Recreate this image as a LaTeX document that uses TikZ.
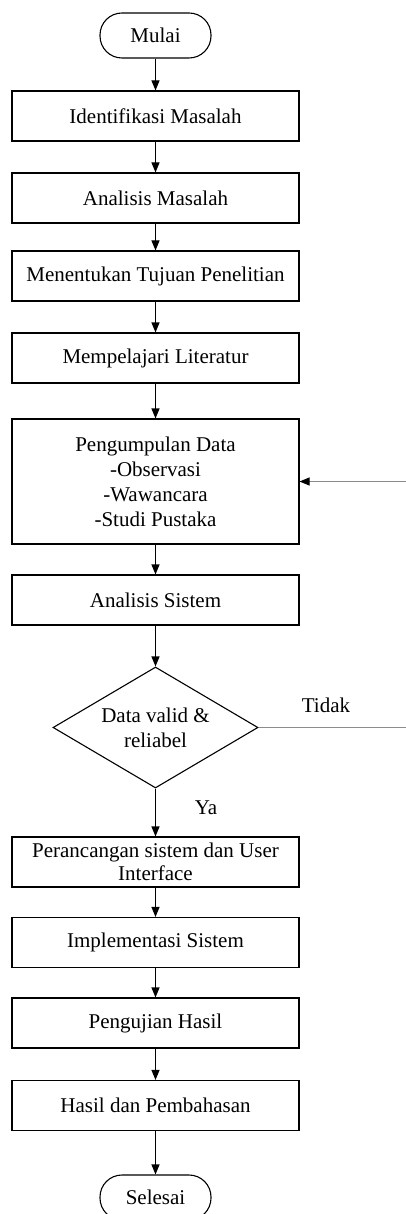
\documentclass[tikz,border=0pt]{standalone}
\usepackage{fontspec}
\setmainfont{Liberation Serif}
\usetikzlibrary{shapes.geometric,arrows.meta}
\tikzset{
  base/.style={draw=black, line width=1.1pt, font=\fontsize{21}{25}\selectfont, align=center, inner sep=0pt},
  procbox/.style={base, rectangle, minimum width=287pt, minimum height=50pt},
  term/.style={base, rectangle, rounded corners=22pt, minimum width=111pt, minimum height=45pt},
  decision/.style={base, diamond, aspect=1.69, minimum width=205pt, minimum height=121pt},
  flow/.style={line width=1.1pt, -{Triangle[length=10pt,width=8pt]}},
  grayline/.style={draw=black!45, line width=1.1pt},
  lbl/.style={font=\fontsize{21}{25}\selectfont, inner sep=0pt}
}
\begin{document}
\begin{tikzpicture}[x=1pt,y=-1pt]
\useasboundingbox (0,0) rectangle (406,1214);
\node[term] (mulai) at (155.5,35.5) {Mulai};
\node[procbox] (ident) at (155.5,116) {Identifikasi Masalah};
\node[procbox] (anm) at (155.5,198) {Analisis Masalah};
\node[procbox] (tuj) at (155.5,276) {Menentukan Tujuan Penelitian};
\node[procbox] (lit) at (155.5,358) {Mempelajari Literatur};
\node[procbox, minimum height=125pt] (data) at (155.5,481.5) {Pengumpulan Data\\-Observasi\\-Wawancara\\-Studi Pustaka};
\node[procbox] (ans) at (155.5,600) {Analisis Sistem};
\node[decision] (dec) at (155.5,727.5) {Data valid \&\\reliabel};
\node[procbox] (rancang) at (155.5,862) {Perancangan sistem dan User\\[-2pt]Interface};
\node[procbox] (impl) at (155.5,942.5) {Implementasi Sistem};
\node[procbox] (uji) at (155.5,1023) {Pengujian Hasil};
\node[procbox] (hasil) at (155.5,1105.5) {Hasil dan Pembahasan};
\node[term] (selesai) at (155.5,1197.5) {Selesai};

\coordinate (rin) at (406,481.5);
\coordinate (rout) at (406,727.5);

\draw[flow] (mulai) -- (ident);
\draw[flow] (ident) -- (anm);
\draw[flow] (anm) -- (tuj);
\draw[flow] (tuj) -- (lit);
\draw[flow] (lit) -- (data);
\draw[flow] (data) -- (ans);
\draw[flow] (ans) -- (dec);
\draw[flow] (dec) -- (rancang);
\draw[flow] (rancang) -- (impl);
\draw[flow] (impl) -- (uji);
\draw[flow] (uji) -- (hasil);
\draw[flow] (hasil) -- (selesai);

\draw[grayline] (dec.east) -- (rout);
\draw[grayline, -{Triangle[length=10pt,width=8pt,color=black]}] (rin) -- (data.east);

\node[lbl] (tidak) at (326,705) {Tidak};
\node[lbl] (ya) at (206,808) {Ya};
\end{tikzpicture}
\end{document}
